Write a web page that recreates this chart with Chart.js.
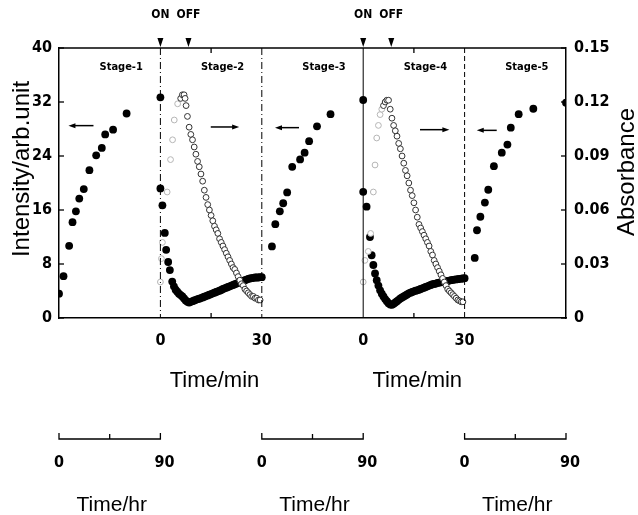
<!DOCTYPE html>
<html lang="en">
<head>
<meta charset="UTF-8">
<title>Intensity and absorbance by stage</title>
<script src="https://cdn.jsdelivr.net/npm/chart.js@4.4.1/dist/chart.umd.min.js"></script>
<style>
    html, body { margin: 0; padding: 0; background: #fff; }
    canvas { display: block; }
</style>
</head>
<body>
<canvas id="chart" width="638" height="515"></canvas>
<script>
// Stage 1, 3, 5 are in hours (0-90 hr), stage 2 and 4 in minutes (0-30 min)
const stage1Hr  = [0, 4, 9, 12, 15, 18, 22, 27, 33, 38, 41, 48, 60];
const stage1Int = [3.6, 6.2, 10.7, 14.2, 15.8, 17.7, 19.1, 21.9, 24.1, 25.2, 27.2, 27.9, 30.3];

const stage3Hr  = [9, 12, 16, 19, 22.5, 27, 34, 38, 42, 49, 61];
const stage3Int = [10.6, 13.9, 15.8, 17.0, 18.6, 22.4, 23.5, 24.5, 26.2, 28.4, 30.2];

const stage5Hr  = [9, 11, 14, 18, 21, 26, 33, 38, 41, 48, 61, 90];
const stage5Int = [8.9, 13.0, 15.0, 17.1, 19.0, 22.5, 24.5, 25.7, 28.2, 30.2, 31.0, 31.9];

const stage2Min = [0, 0, 0.6, 1.3, 1.7, 2.3, 2.8, 3.5, 4, 4.5, 5, 5.5, 6, 6.5, 7, 7.5, 8, 8.5, 9, 9.5,
    10, 10.5, 11, 11.5, 12, 12.5, 13, 13.5, 14, 14.5, 15, 15.5, 16, 16.5, 17, 17.5, 18, 18.5, 19, 19.5,
    20, 20.5, 21, 21.5, 22, 22.5, 23, 23.5, 24, 24.5, 25, 25.5, 26, 26.5, 27, 27.5, 28, 28.5, 29, 29.5, 30];
const stage2Int = [32.7, 19.2, 16.7, 12.6, 10.1, 8.3, 7.1, 5.4, 4.7, 4.2, 3.9, 3.6, 3.4, 3.2, 2.9, 2.6, 2.4, 2.3, 2.4, 2.5,
    2.6, 2.7, 2.8, 2.85, 2.95, 3.05, 3.15, 3.25, 3.35, 3.45, 3.55, 3.65, 3.75, 3.85, 3.95, 4.05, 4.15, 4.3, 4.4, 4.5,
    4.6, 4.7, 4.8, 4.9, 5.0, 5.1, 5.2, 5.3, 5.4, 5.5, 5.6, 5.7, 5.8, 5.85, 5.9, 5.95, 6.0, 6.0, 6.0, 6.05, 6.05];

const stage2AbsMin = [0, 0.3, 0.6, 2, 3, 3.6, 4.1, 5.1, 6, 6.5, 7, 7.3, 7.6, 8, 8.5, 9, 9.5, 10, 10.5, 11, 11.5,
    12, 12.5, 13, 13.5, 14, 14.5, 15, 15.5, 16, 16.5, 17, 17.5, 18, 18.5, 19, 19.5, 20, 20.5, 21, 21.5,
    22, 22.5, 23, 23.5, 24, 24.5, 25, 25.5, 26, 26.5, 27, 27.5, 28, 28.5, 29, 29.5];
const stage2Abs = [0.020, 0.033, 0.042, 0.070, 0.088, 0.099, 0.110, 0.119, 0.122, 0.124, 0.124, 0.122, 0.118, 0.112, 0.106, 0.102, 0.099, 0.095, 0.091, 0.087, 0.084,
    0.080, 0.076, 0.071, 0.067, 0.063, 0.060, 0.057, 0.054, 0.051, 0.049, 0.047, 0.044, 0.042, 0.040, 0.038, 0.036, 0.034, 0.032, 0.030, 0.028,
    0.027, 0.025, 0.023, 0.021, 0.019, 0.018, 0.016, 0.015, 0.014, 0.013, 0.012, 0.012, 0.011, 0.011, 0.010, 0.010];

const stage4Min = [0, 0, 1, 2, 2.5, 3, 3.5, 4, 4.5, 5, 5.5, 6, 6.5, 7, 7.5, 8, 8.5, 9, 9.5,
    10, 10.5, 11, 11.5, 12, 12.5, 13, 13.5, 14, 14.5, 15, 15.5, 16, 16.5, 17, 17.5, 18, 18.5, 19, 19.5,
    20, 20.5, 21, 21.5, 22, 22.5, 23, 23.5, 24, 24.5, 25, 25.5, 26, 26.5, 27, 27.5, 28, 28.5, 29, 29.5, 30];
const stage4Int = [32.3, 18.7, 16.5, 12.0, 9.3, 7.85, 6.6, 5.6, 4.8, 4.1, 3.6, 3.2, 2.8, 2.5, 2.2, 2.0, 1.95, 2.1, 2.3,
    2.5, 2.7, 2.9, 3.05, 3.2, 3.35, 3.5, 3.65, 3.75, 3.85, 3.95, 4.05, 4.1, 4.2, 4.3, 4.4, 4.5, 4.6, 4.7, 4.8,
    4.9, 5.0, 5.05, 5.1, 5.2, 5.25, 5.3, 5.35, 5.4, 5.45, 5.5, 5.55, 5.6, 5.65, 5.7, 5.72, 5.75, 5.8, 5.82, 5.85, 5.9];

const stage4AbsMin = [0, 0.5, 1.5, 2.2, 3, 3.5, 4, 4.5, 5, 5.5, 6, 6.5, 7, 7.5, 8, 8.5, 9, 9.5, 10, 10.5, 11, 11.5,
    12, 12.5, 13, 13.5, 14, 14.5, 15, 15.5, 16, 16.5, 17, 17.5, 18, 18.5, 19, 19.5, 20, 20.5, 21, 21.5,
    22, 22.5, 23, 23.5, 24, 24.5, 25, 25.5, 26, 26.5, 27, 27.5, 28, 28.5, 29, 29.5];
const stage4Abs = [0.020, 0.032, 0.037, 0.047, 0.070, 0.085, 0.100, 0.107, 0.113, 0.116, 0.118, 0.120, 0.121, 0.121, 0.116, 0.111, 0.107, 0.104, 0.101, 0.097, 0.094, 0.090,
    0.086, 0.082, 0.079, 0.075, 0.071, 0.068, 0.064, 0.060, 0.056, 0.052, 0.050, 0.048, 0.046, 0.044, 0.042, 0.040, 0.037, 0.035, 0.032, 0.030,
    0.028, 0.026, 0.024, 0.022, 0.020, 0.018, 0.016, 0.015, 0.014, 0.013, 0.012, 0.011, 0.010, 0.0095, 0.009, 0.009];

const stageNames = ['Stage-1', 'Stage-2', 'Stage-3', 'Stage-4', 'Stage-5'];
const minTickLabels = ['0', '30', '0', '30'];
const hrTickLabels = ['0', '90'];
const lightOnMin = 0;
const lightOffMin = 8.3;

// every stage takes the same width on the x axis: 30 min or 90 hr
const stageStart = [0, 30, 60, 90, 120];
const HR_SCALE = 3;

function hrPoints(stage, hrs, vals) {
    return hrs.map((h, i) => ({ x: stageStart[stage] + h / HR_SCALE, y: vals[i] }));
}
function minPoints(stage, mins, vals) {
    return mins.map((m, i) => ({ x: stageStart[stage] + m, y: vals[i], t: m }));
}

const condFont = '"DejaVu Sans Condensed", "Liberation Sans Narrow", "Liberation Sans", sans-serif';
const textFont = '"Liberation Sans", Arial, sans-serif';

function filled(data) {
    return {
        data: data, yAxisID: 'y',
        pointRadius: 3.9, pointHoverRadius: 3.9,
        pointBackgroundColor: '#000', pointBorderColor: '#000', pointBorderWidth: 0
    };
}
function open(data) {
    return {
        data: data, yAxisID: 'y2',
        pointRadius: 2.9, pointHoverRadius: 2.9,
        pointBackgroundColor: '#fff',
        // rising part is printed very faintly in the original
        pointBorderColor: c => (c.raw && c.raw.t < 6) ? '#b5b5b5' : '#333',
        pointBorderWidth: 1
    };
}

const decor = {
    id: 'decor',
    afterDraw(chart) {
        const { ctx, chartArea: a, scales: { x, y, y2 } } = chart;
        ctx.save();
        ctx.strokeStyle = '#000';
        ctx.fillStyle = '#000';

        // top frame
        ctx.lineWidth = 1.5;
        ctx.beginPath();
        ctx.moveTo(a.left, a.top);
        ctx.lineTo(a.right, a.top);
        ctx.stroke();

        // stage dividers
        const dashes = [[7, 3, 1, 3], [7, 3, 1, 3], [], [5, 3]];
        ctx.lineWidth = 1;
        for (let i = 1; i < stageStart.length; i++) {
            const px = x.getPixelForValue(stageStart[i]);
            ctx.setLineDash(dashes[i - 1]);
            ctx.beginPath();
            ctx.moveTo(px, a.top);
            ctx.lineTo(px, a.bottom);
            ctx.stroke();
        }
        ctx.setLineDash([]);

        // inward ticks
        ctx.lineWidth = 1.3;
        [45, 105].forEach(v => {
            const px = x.getPixelForValue(v);
            ctx.beginPath();
            ctx.moveTo(px, a.top); ctx.lineTo(px, a.top + 5);
            ctx.moveTo(px, a.bottom); ctx.lineTo(px, a.bottom - 5);
            ctx.stroke();
        });
        y.ticks.forEach(t => {
            const py = y.getPixelForValue(t.value);
            ctx.beginPath(); ctx.moveTo(a.left, py); ctx.lineTo(a.left + 5, py); ctx.stroke();
        });
        y2.ticks.forEach(t => {
            const py = y2.getPixelForValue(t.value);
            ctx.beginPath(); ctx.moveTo(a.right, py); ctx.lineTo(a.right - 5, py); ctx.stroke();
        });

        // arrows pointing to the axis that the data belong to
        const arrows = [[10.2, 2.8, 28.5], [44.9, 53.3, 28.3], [71.0, 63.9, 28.2], [106.8, 115.5, 27.9], [129.5, 123.6, 27.8]];
        ctx.lineWidth = 1.5;
        arrows.forEach(([x0, x1, v]) => {
            const p0 = x.getPixelForValue(x0), p1 = x.getPixelForValue(x1), py = y.getPixelForValue(v);
            const dir = Math.sign(p1 - p0);
            ctx.beginPath(); ctx.moveTo(p0, py); ctx.lineTo(p1 - dir * 4, py); ctx.stroke();
            ctx.beginPath();
            ctx.moveTo(p1, py); ctx.lineTo(p1 - dir * 7, py - 2.5); ctx.lineTo(p1 - dir * 7, py + 2.5);
            ctx.closePath(); ctx.fill();
        });

        // stage names
        ctx.font = 'bold 11px ' + condFont;
        ctx.textAlign = 'center';
        ctx.textBaseline = 'middle';
        stageNames.forEach((s, i) => {
            ctx.fillText(s, x.getPixelForValue(stageStart[i] + 18.4), y.getPixelForValue(37.2));
        });

        // light on / off markers
        ctx.font = 'bold 12px ' + condFont;
        [1, 3].forEach(st => {
            [[lightOnMin, 'ON'], [lightOffMin, 'OFF']].forEach(([m, lbl]) => {
                const px = x.getPixelForValue(stageStart[st] + m);
                ctx.fillText(lbl, px, 15);
                ctx.beginPath();
                ctx.moveTo(px - 3, a.top - 10); ctx.lineTo(px + 3, a.top - 10); ctx.lineTo(px, a.top - 1);
                ctx.closePath(); ctx.fill();
            });
        });

        // axis titles
        ctx.font = '24px ' + textFont;
        ctx.save();
        ctx.translate(22, 169);
        ctx.rotate(-Math.PI / 2);
        ctx.fillText('Intensity/arb.unit', 0, 0);
        ctx.restore();
        ctx.save();
        ctx.translate(627, 172);
        ctx.rotate(-Math.PI / 2);
        ctx.fillText('Absorbance', 0, 0);
        ctx.restore();

        ctx.font = '22px ' + textFont;
        [1, 3].forEach(st => {
            ctx.fillText('Time/min', x.getPixelForValue(stageStart[st] + 16), 381);
        });

        // hour scale bars under stages 1, 3, 5
        [0, 2, 4].forEach(st => {
            const p0 = x.getPixelForValue(stageStart[st]);
            const p1 = x.getPixelForValue(stageStart[st] + 90 / HR_SCALE);
            const pm = x.getPixelForValue(stageStart[st] + 45 / HR_SCALE);
            ctx.lineWidth = 1.3;
            ctx.beginPath();
            ctx.moveTo(p0, 433); ctx.lineTo(p0, 439); ctx.lineTo(p1, 439); ctx.lineTo(p1, 433);
            ctx.moveTo(pm, 439); ctx.lineTo(pm, 434);
            ctx.stroke();
            ctx.font = 'bold 16px ' + condFont;
            ctx.fillText(hrTickLabels[0], p0, 463);
            ctx.fillText(hrTickLabels[1], p1 + 4, 463);
            ctx.font = '21px ' + textFont;
            ctx.fillText('Time/hr', (p0 + p1) / 2 + 2, 505);
        });
        ctx.restore();
    }
};

const tickFont = { family: condFont, size: 16, weight: 'bold' };

new Chart(document.getElementById('chart'), {
    type: 'scatter',
    data: {
        datasets: [
            open(minPoints(1, stage2AbsMin, stage2Abs)),
            open(minPoints(3, stage4AbsMin, stage4Abs)),
            filled(hrPoints(0, stage1Hr, stage1Int)),
            filled(minPoints(1, stage2Min, stage2Int)),
            filled(hrPoints(2, stage3Hr, stage3Int)),
            filled(minPoints(3, stage4Min, stage4Int)),
            filled(hrPoints(4, stage5Hr, stage5Int))
        ]
    },
    options: {
        responsive: false,
        animation: false,
        devicePixelRatio: 1,
        layout: { padding: { top: 48, left: 0, right: 0, bottom: 167 } },
        plugins: { legend: { display: false }, tooltip: { enabled: false } },
        scales: {
            x: {
                type: 'linear', min: 0, max: 150,
                grid: { display: false, drawTicks: false },
                border: { display: true, color: '#000', width: 1.5 },
                afterBuildTicks: s => { s.ticks = [30, 60, 90, 120].map(v => ({ value: v })); },
                afterFit: s => { s.height = 30; },
                ticks: {
                    padding: 13, color: '#000', font: tickFont, autoSkip: false, maxRotation: 0,
                    callback: (v, i) => minTickLabels[i]
                }
            },
            y: {
                position: 'left', min: 0, max: 40,
                grid: { display: false, drawTicks: false },
                border: { display: true, color: '#000', width: 1.5 },
                afterFit: s => { s.width = 59; },
                ticks: { stepSize: 8, padding: 7, color: '#000', font: tickFont }
            },
            y2: {
                position: 'right', min: 0, max: 0.15,
                grid: { display: false, drawTicks: false },
                border: { display: true, color: '#000', width: 1.5 },
                afterFit: s => { s.width = 72; },
                ticks: {
                    stepSize: 0.03, padding: 8, color: '#000', font: tickFont,
                    callback: v => v === 0 ? '0' : v.toFixed(2)
                }
            }
        }
    },
    plugins: [decor]
});
</script>
</body>
</html>
